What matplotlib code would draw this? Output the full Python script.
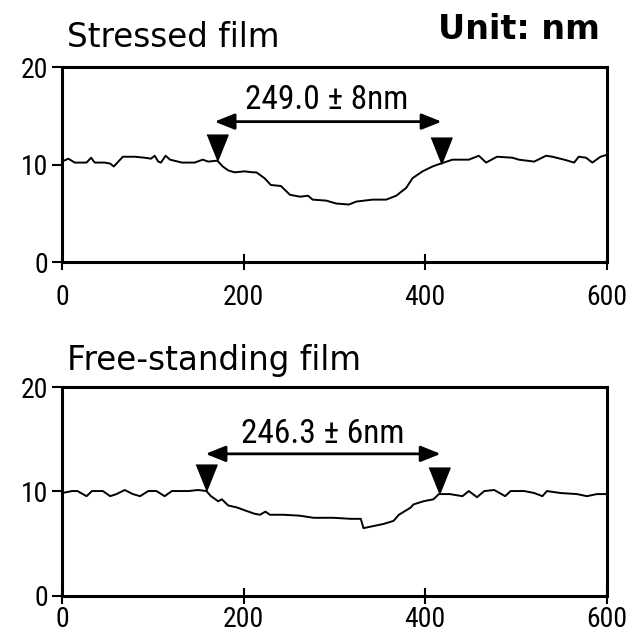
import matplotlib
matplotlib.use("Agg")
import matplotlib.pyplot as plt
from matplotlib import font_manager

# ---- data ----
stressed_x = [0, 7, 14, 27, 32, 36, 47, 53, 57, 62, 67, 80, 91, 98, 102, 106, 109, 114, 119,
              132, 146, 155, 161, 171, 177, 183, 190, 201, 210, 214, 223, 230, 241, 251, 262,
              271, 276, 291, 302, 316, 324, 342, 357, 368, 379, 386, 397, 408, 417, 430, 448,
              459, 467, 479, 496, 503, 520, 533, 540, 553, 564, 569, 577, 584, 593, 600]
stressed_y = [10.3, 10.6, 10.2, 10.2, 10.7, 10.2, 10.2, 10.1, 9.8, 10.3, 10.8, 10.8, 10.7,
              10.6, 10.9, 10.3, 10.2, 10.9, 10.5, 10.2, 10.2, 10.5, 10.3, 10.4, 9.8, 9.4, 9.2,
              9.3, 9.2, 9.2, 8.6, 7.9, 7.8, 6.9, 6.7, 6.8, 6.4, 6.3, 6.0, 5.9, 6.2, 6.4, 6.4,
              6.8, 7.6, 8.6, 9.3, 9.8, 10.1, 10.5, 10.5, 10.9, 10.2, 10.8, 10.7, 10.5, 10.3,
              10.9, 10.8, 10.5, 10.2, 10.8, 10.7, 10.2, 10.8, 11.0]

free_x = [0, 11, 17, 27, 33, 45, 53, 60, 69, 78, 86, 95, 104, 113, 121, 139, 150, 159, 164,
          172, 176, 183, 193, 202, 212, 218, 224, 229, 244, 262, 277, 299, 318, 329, 332, 343,
          354, 365, 371, 384, 387, 398, 409, 415, 427, 441, 448, 457, 465, 476, 488, 494, 509,
          520, 529, 534, 549, 567, 578, 589, 600]
free_y = [9.85, 10.04, 10.04, 9.55, 10.04, 10.04, 9.55, 9.75, 10.14, 9.75, 9.55, 10.04, 10.04,
          9.55, 10.04, 10.04, 10.14, 10.04, 9.55, 9.06, 9.25, 8.66, 8.46, 8.17, 7.87, 7.77,
          8.07, 7.77, 7.77, 7.68, 7.48, 7.48, 7.38, 7.38, 6.49, 6.69, 6.89, 7.18, 7.77, 8.46,
          8.76, 9.06, 9.25, 9.75, 9.75, 9.55, 10.04, 9.45, 10.04, 10.14, 9.55, 10.04, 10.04,
          9.85, 9.55, 10.04, 9.85, 9.75, 9.55, 9.75, 9.75]

titles = ["Stressed film", "Free-standing film"]
labels = ["249.0 \u00b1 8nm", "246.3 \u00b1 6nm"]
marker_x = [[171, 417], [159, 415]]
marker_y = [[10.4, 10.1], [10.04, 9.75]]
arrow_x = [[168, 418], [158, 417]]
arrow_y = [14.4, 13.6]
label_pos = [(292, 16.6), (287, 15.5)]
xticks = [0, 200, 400, 600]
yticks = [0, 10, 20]

# ---- font: prefer a narrow / condensed sans ----
cands = []
for f in font_manager.fontManager.ttflist:
    nm = f.name
    st = str(f.stretch)
    if "Narrow" in nm or "Condensed" in nm or st in ("condensed", "semi-condensed", "extra-condensed"):
        cands.append((nm, st))
stretch = "normal"
fam = "Liberation Sans"
pref = ["Liberation Sans Narrow", "Roboto Condensed", "Open Sans Condensed", "DejaVu Sans Condensed"]
found = False
for p in pref:
    for nm, st in cands:
        if nm == p:
            fam = nm
            found = True
            break
    if found:
        break
if not found:
    for nm, st in cands:
        if nm in ("DejaVu Sans", "Roboto", "Open Sans", "Noto Sans", "Liberation Sans"):
            fam = nm
            stretch = "condensed"
            found = True
            break
plt.rcParams["font.family"] = [fam, "DejaVu Sans"]
plt.rcParams["font.stretch"] = stretch

fig = plt.figure(figsize=(6.38, 6.36), dpi=100)
ax1 = fig.add_axes([0.0972, 0.588, 0.854, 0.3066])
ax2 = fig.add_axes([0.0972, 0.0630, 0.854, 0.3285])

tri = [(-0.40, 1.0), (0.40, 1.0), (0.0, 0.0)]
title_y = [0.926, 0.418]

data = [(stressed_x, stressed_y), (free_x, free_y)]
for i, ax in enumerate([ax1, ax2]):
    xs, ys = data[i]
    ax.plot(xs, ys, color="black", lw=1.4)
    ax.set_xlim(0, 600)
    ax.set_ylim(0, 20)
    ax.set_xticks(xticks)
    ax.set_yticks(yticks)
    for s in ax.spines.values():
        s.set_linewidth(2.2)
    ax.tick_params(axis="x", direction="inout", length=12, width=1.5, labelsize=20,
                   pad=10 if i == 0 else 1)
    ax.tick_params(axis="y", direction="out", length=7, width=1.5, labelsize=20, pad=3)
    ax.plot(marker_x[i], marker_y[i], linestyle="none", marker=tri, markersize=38,
            color="black", clip_on=False)
    ax.annotate("", xy=(arrow_x[i][0], arrow_y[i]), xytext=(arrow_x[i][1], arrow_y[i]),
                arrowprops=dict(arrowstyle="<|-|>,head_length=0.55,head_width=0.22",
                                color="black", lw=2, mutation_scale=22,
                                shrinkA=0, shrinkB=0))
    ax.text(label_pos[i][0], label_pos[i][1], labels[i], ha="center", va="center",
            fontsize=24)
    fig.text(0.105, title_y[i], titles[i], ha="left", va="baseline",
             fontsize=23.5, family="DejaVu Sans", stretch="normal")

fig.text(0.94, 0.953, "Unit: nm", ha="right", va="center", fontsize=24, fontweight="bold",
         family="DejaVu Sans", stretch="normal")

fig.savefig("out.png", dpi=100)
